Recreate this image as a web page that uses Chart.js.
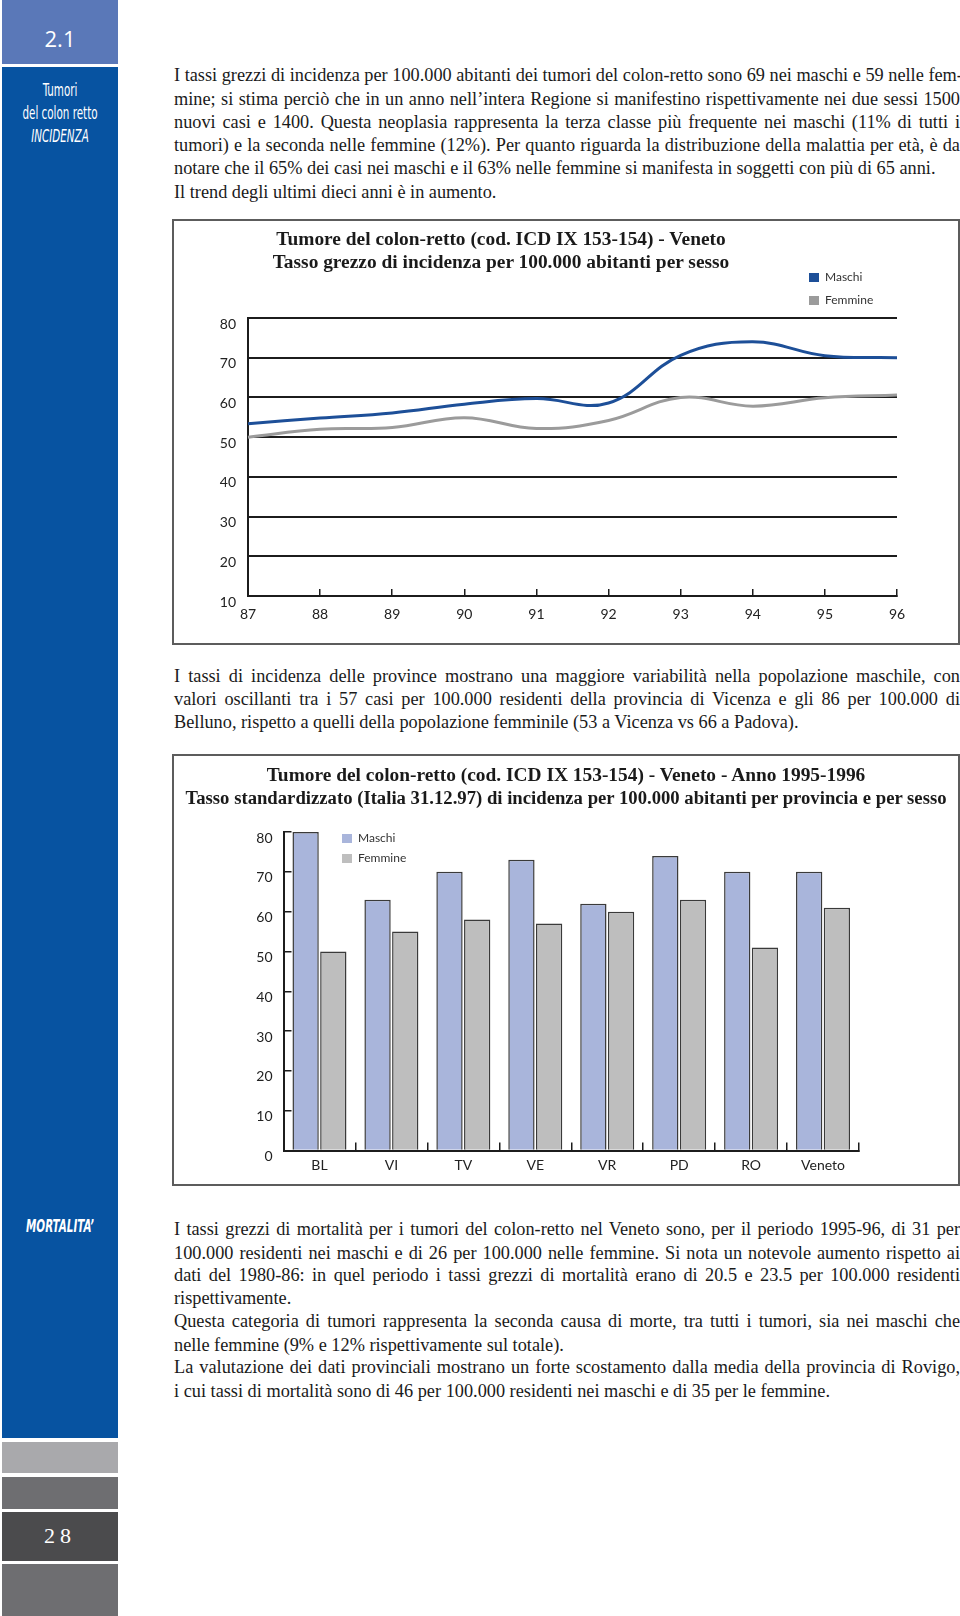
<!DOCTYPE html>
<html>
<head>
<meta charset="utf-8">
<script src="https://cdn.jsdelivr.net/npm/chart.js@4.4.1/dist/chart.umd.min.js"></script>
<style>
  html, body { margin: 0; padding: 0; background: #fff; }
  #page { position: relative; width: 960px; height: 1616px; overflow: hidden; }
  .blk { position: absolute; left: 2px; width: 116px; }
  .side { position: absolute; color: #fff; text-align: center; width: 116px; left: 2px; white-space: nowrap; }
  .narrow { left: -40px; width: 200px; font-family: "Liberation Sans Narrow", "DejaVu Sans Condensed", sans-serif; font-size: 18px; line-height: 22px; transform: scaleX(0.64); }
  .ln { position: absolute; left: 174px; width: 786px; font-family: "Liberation Serif", serif; font-size: 18.3px; line-height: 22px; white-space: nowrap; color: #1a1a1a; }
  .j { text-align: justify; text-align-last: justify; }
  .box { position: absolute; left: 172px; width: 788px; border: 2px solid #5c5c5c; box-sizing: border-box; }
  .ttl { position: absolute; font-family: "Liberation Serif", serif; font-weight: bold; font-size: 19.4px; line-height: 23px; white-space: nowrap; color: #1a1a1a; text-align: center; }
  .lg { position: absolute; font-family: Lato, "Open Sans", sans-serif; font-size: 12px; color: #333; white-space: nowrap; }
  .lg i { display: inline-block; width: 10px; height: 9px; margin-right: 6px; vertical-align: -1px; }
  canvas { position: absolute; }
</style>
</head>
<body>
<div id="page">
  <!-- colonna laterale -->
  <div class="blk" style="top:0;height:64px;background:#5a78b8"></div>
  <div class="blk" style="top:67px;height:1371px;background:#0753a1"></div>
  <div class="blk" style="top:1442px;height:31px;background:#a9a9ac"></div>
  <div class="blk" style="top:1477px;height:32px;background:#6e6e71"></div>
  <div class="blk" style="top:1512px;height:49px;background:#4b4b4d"></div>
  <div class="blk" style="top:1564px;height:52px;background:#6e6e71"></div>
  <div class="side" style="top:24px;font-family:'Open Sans',sans-serif;font-size:22px;line-height:28px">2.1</div>
  <div class="side narrow" style="top:79px">Tumori</div>
  <div class="side narrow" style="top:102px">del colon retto</div>
  <div class="side narrow" style="top:125px;font-style:italic">INCIDENZA</div>
  <div class="side narrow" style="top:1215px;font-style:italic;font-weight:bold">MORTALITA’</div>
  <div class="side" style="top:1522px;font-family:'Liberation Serif',serif;font-size:22px;line-height:28px;letter-spacing:5px">28</div>

  <!-- testo -->
  <div class="ln j" style="top:64px">I tassi grezzi di incidenza per 100.000 abitanti dei tumori del colon-retto sono 69 nei maschi e 59 nelle fem-</div>
  <div class="ln j" style="top:88px">mine; si stima perciò che in un anno nell’intera Regione si manifestino rispettivamente nei due sessi 1500</div>
  <div class="ln j" style="top:111px">nuovi casi e 1400. Questa neoplasia rappresenta la terza classe più frequente nei maschi (11% di tutti i</div>
  <div class="ln j" style="top:134px">tumori) e la seconda nelle femmine (12%). Per quanto riguarda la distribuzione della malattia per età, è da</div>
  <div class="ln" style="top:157px">notare che il 65% dei casi nei maschi e il 63% nelle femmine si manifesta in soggetti con più di 65 anni.</div>
  <div class="ln" style="top:181px">Il trend degli ultimi dieci anni è in aumento.</div>

  <div class="ln j" style="top:665px">I tassi di incidenza delle province mostrano una maggiore variabilità nella popolazione maschile, con</div>
  <div class="ln j" style="top:688px">valori oscillanti tra i 57 casi per 100.000 residenti della provincia di Vicenza e gli 86 per 100.000 di</div>
  <div class="ln" style="top:711px">Belluno, rispetto a quelli della popolazione femminile (53 a Vicenza vs 66 a Padova).</div>

  <div class="ln j" style="top:1218px">I tassi grezzi di mortalità per i tumori del colon-retto nel Veneto sono, per il periodo 1995-96, di 31 per</div>
  <div class="ln j" style="top:1242px">100.000 residenti nei maschi e di 26 per 100.000 nelle femmine. Si nota un notevole aumento rispetto ai</div>
  <div class="ln j" style="top:1264px">dati del 1980-86: in quel periodo i tassi grezzi di mortalità erano di 20.5 e 23.5 per 100.000 residenti</div>
  <div class="ln" style="top:1287px">rispettivamente.</div>
  <div class="ln j" style="top:1310px">Questa categoria di tumori rappresenta la seconda causa di morte, tra tutti i tumori, sia nei maschi che</div>
  <div class="ln" style="top:1334px">nelle femmine (9% e 12% rispettivamente sul totale).</div>
  <div class="ln j" style="top:1356px">La valutazione dei dati provinciali mostrano un forte scostamento dalla media della provincia di Rovigo,</div>
  <div class="ln" style="top:1380px">i cui tassi di mortalità sono di 46 per 100.000 residenti nei maschi e di 35 per le femmine.</div>

  <!-- grafico 1 -->
  <div class="box" style="top:219px;height:426px"></div>
  <canvas id="trend" width="788" height="426" style="left:172px;top:219px"></canvas>
  <div class="ttl" style="left:250px;top:227px;width:502px">Tumore del colon-retto (cod. ICD IX 153-154) - Veneto<br>Tasso grezzo di incidenza per 100.000 abitanti per sesso</div>
  <div id="lgTrend"></div>

  <!-- grafico 2 -->
  <div class="box" style="top:754px;height:432px"></div>
  <canvas id="prov" width="788" height="431" style="left:172px;top:754px"></canvas>
  <div class="ttl" style="left:174px;top:763px;width:784px">Tumore del colon-retto (cod. ICD IX 153-154) - Veneto - Anno 1995-1996<br><span style="font-size:18.7px">Tasso standardizzato (Italia 31.12.97) di incidenza per 100.000 abitanti per provincia e per sesso</span></div>
  <div id="lgProv"></div>
</div>

<script>
// trend 1987-1996, tasso grezzo
const anni = ["87", "88", "89", "90", "91", "92", "93", "94", "95", "96"];
const maschiTrend = [53.4, 54.8, 56.1, 58.3, 59.7, 58.6, 70.6, 74, 70.5, 70];
const femmineTrend = [50, 52, 52.4, 54.9, 52.2, 54.2, 60, 57.8, 59.9, 60.6];

// province 1995-1996, tasso standardizzato
const province = ["BL", "VI", "TV", "VE", "VR", "PD", "RO", "Veneto"];
const maschiProv = [80, 63, 70, 73, 62, 74, 70, 70];
const femmineProv = [50, 55, 58, 57, 60, 63, 51, 61];

const tickFont = { family: "Lato, 'Open Sans', sans-serif", size: 14 };
const ink = "#1c1c1c";

function legenda(id, items, left, top, gap) {
  const el = document.getElementById(id);
  items.forEach((it, i) => {
    const d = document.createElement("div");
    d.className = "lg";
    d.style.left = left + "px";
    d.style.top = (top + i * gap) + "px";
    d.innerHTML = '<i style="background:' + it.color + '"></i>' + it.label;
    el.appendChild(d);
  });
}

const trend = new Chart(document.getElementById("trend"), {
  type: 'line',
  data: {
    labels: anni,
    datasets: [{
      label: "Maschi",
      data: maschiTrend,
      borderColor: "#1d4f98",
      borderWidth: 3,
      tension: 0.4,
      pointRadius: 0,
      fill: false
    }, {
      label: "Femmine",
      data: femmineTrend,
      borderColor: "#9b9b9b",
      borderWidth: 3,
      tension: 0.4,
      pointRadius: 0,
      fill: false
    }]
  },
  options: {
    responsive: false,
    animation: false,
    layout: { padding: { top: 99, right: 63, left: 0, bottom: 0 } },
    plugins: { legend: { display: false }, tooltip: { enabled: false } },
    scales: {
      x: {
        grid: { drawOnChartArea: false, color: ink, lineWidth: 1.5, tickLength: -7 },
        border: { color: ink, width: 2 },
        ticks: { font: tickFont, color: "#222", padding: 17, maxRotation: 0, autoSkip: false },
        afterFit: s => { s.height = 49; }
      },
      y: {
        min: 10,
        max: 80,
        ticks: { stepSize: 10, font: tickFont, color: "#222", padding: 12, labelOffset: 6 },
        grid: { color: ink, lineWidth: 2, drawTicks: false },
        border: { color: ink, width: 2 },
        afterFit: s => { s.width = 76; }
      }
    }
  }
});

legenda("lgTrend", trend.data.datasets.map(d => ({ label: d.label, color: d.borderColor })), 809, 269, 23);

const prov = new Chart(document.getElementById("prov"), {
  type: 'bar',
  data: {
    labels: province,
    datasets: [{
      label: "Maschi",
      data: maschiProv,
      backgroundColor: "#a9b5db",
      borderColor: "#3a3a3a",
      borderWidth: 1.5
    }, {
      label: "Femmine",
      data: femmineProv,
      backgroundColor: "#bebebe",
      borderColor: "#3a3a3a",
      borderWidth: 1.5
    }]
  },
  options: {
    responsive: false,
    animation: false,
    categoryPercentage: 0.77,
    barPercentage: 0.95,
    layout: { padding: { top: 78, right: 101, left: 0, bottom: 0 } },
    plugins: { legend: { display: false }, tooltip: { enabled: false } },
    scales: {
      x: {
        grid: { drawOnChartArea: false, color: ink, lineWidth: 1.5, tickLength: -8 },
        border: { color: ink, width: 2 },
        ticks: { font: tickFont, color: "#222", padding: 15, maxRotation: 0, autoSkip: false },
        afterFit: s => { s.height = 34.5; }
      },
      y: {
        min: 0,
        max: 80,
        ticks: { stepSize: 10, font: tickFont, color: "#222", padding: 19, labelOffset: 6 },
        grid: { drawOnChartArea: false, color: ink, lineWidth: 1.5, tickLength: -8 },
        border: { color: ink, width: 2 },
        afterFit: s => { s.width = 111.5; }
      }
    }
  }
});

legenda("lgProv", prov.data.datasets.map(d => ({ label: d.label, color: d.backgroundColor })), 342, 830, 20);
</script>
</body>
</html>
